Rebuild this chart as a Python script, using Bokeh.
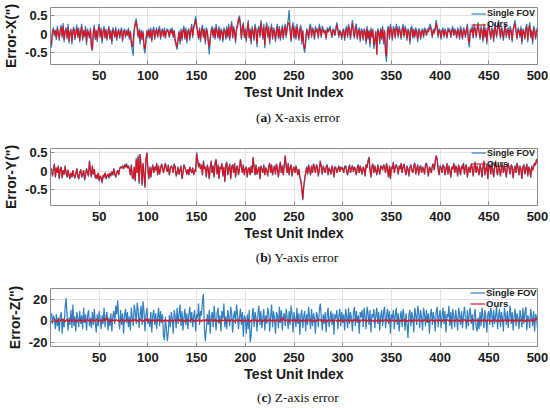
from bokeh.plotting import figure
from bokeh.layouts import column
from bokeh.models import Range1d, FixedTicker, Label, Legend, LegendItem
from bokeh.embed import file_html
from bokeh.resources import INLINE

# ---------------- data ----------------
x_ticks = [50, 100, 150, 200, 250, 300, 350, 400, 450, 500]
series_names = ["Single FOV", "Ours"]
y_labels = ['Error-X(")', 'Error-Y(")', 'Error-Z(")']
caption_letters = ["a", "b", "c"]
caption_texts = [") X-axis error", ") Y-axis error", ") Z-axis error"]
x_label = "Test Unit Index"

ex_single_fov = [
    -.36, .1, .18, -.06, .12, -.16, .22, .05, -.18, .14, .25, -.1, .3, -.22, .1, .18, -.14, .28, -.25, .08,
    .15, -.28, .12, .2, -.16, .05, .25, -.1, .18, -.22, .1, .28, -.18, .12, -.08, .22, -.3, .15, .05, -.12,
    .18, -.38, -.45, .1, .25, -.16, .12, -.22, .15, .28, -.1, .18, -.25, .1, .22, -.12, .15, -.18, .08, .22,
    -.15, .12, -.28, .18, .1, -.1, .2, -.18, .05, .15, -.12, .1, .18, -.22, .08, .15, -.1, .12, -.05, .18,
    -.15, .1, -.28, -.45, -.58, .15, .32, .42, .2, -.1, .15, -.28, .12, -.16, .1, -.4, -.52, -.22, .12, -.1,
    .15, -.12, .18, -.22, .1, .2, -.15, .08, .18, -.1, .12, .22, -.15, .1, .15, -.08, .18, -.12, .1, .15,
    .08, -.1, .15, .05, .18, -.1, .12, -.22, -.32, -.42, -.16, .1, -.28, .15, -.18, .12, .22, -.15, .18, -.25,
    .1, .15, -.18, .12, .28, -.1, .22, .32, .48, .28, .1, -.15, .18, -.22, .12, .25, -.1, .15, -.28, .18,
    .1, -.25, -.55, -.15, .12, .22, -.1, .18, -.15, .28, .1, -.12, .22, -.18, .15, .1, -.22, .18, .12, -.15,
    .22, -.1, .28, -.18, .15, .35, -.12, .22, .1, -.25, .18, .28, .42, .5, .28, -.15, .22, .32, -.1, .15,
    -.22, .18, .38, -.12, .15, -.28, .22, .1, -.18, .28, .12, -.35, .15, .22, -.1, .38, .18, -.15, .28, -.38,
    .15, .32, -.1, .22, -.28, .12, .28, -.15, .18, .1, -.22, .15, .28, -.12, .22, -.18, .1, .25, -.15, .18,
    .28, -.1, .22, .38, .65, .15, -.22, .18, .32, -.12, .22, -.15, .28, .1, -.18, .15, .25, -.28, .12, -.38,
    -.5, -.22, .15, .1, -.15, .22, .28, -.1, .18, .12, -.15, .22, .1, .15, -.12, .28, .15, -.1, .22, .15,
    .05, .12, -.15, .18, .1, .15, .22, .08, -.1, .15, .12, -.05, .18, .32, .15, -.1, .12, .05, -.15, .1,
    .15, -.18, .12, .22, -.1, .28, .15, -.15, .18, .38, .1, -.12, .22, .28, -.15, .1, .18, -.22, .15, .12,
    -.18, .15, .1, -.28, .22, -.15, .12, -.35, .18, -.1, .15, -.4, -.22, .1, -.55, .15, .1, -.28, .18, -.15,
    .22, -.28, .12, -.55, -.75, .15, .22, -.15, .28, .1, -.18, .22, .15, -.12, .28, .18, -.1, .22, .1, -.15,
    .15, .28, -.1, .22, .12, -.18, .15, .1, -.28, .18, .22, -.12, .15, -.1, .18, .1, -.22, .15, .12, -.15,
    .1, .15, -.1, .18, .12, -.05, .15, .1, .22, .28, .12, -.1, .15, .05, .18, .38, .22, -.1, .15, .1,
    -.15, .12, .18, -.1, .15, .08, -.12, .18, .1, .15, -.1, .12, .22, -.05, .15, .1, -.12, .18, .1, -.15,
    .22, .1, -.15, .18, .12, -.1, .15, .28, -.18, -.35, .15, .1, .22, -.12, .28, .15, -.1, .18, .32, .1,
    -.15, .22, .12, -.22, .28, -.1, .18, -.28, .15, .32, .1, -.15, .18, .12, -.22, .28, .15, -.1, .18, .38,
    .15, -.12, .22, .1, -.18, .15, .28, -.1, .12, .18, -.15, .22, .1, -.22, .15, .28, .38, .1, -.15, .18,
    .12, -.1, .22, -.28, .15, .1, -.15, .18, .28, -.22, .15, .32, -.1, .12, -.28, .22, .15, -.15, .1, .18,
]
ex_ours = [
    -.28, .05, .12, -.02, .08, -.1, .15, .02, -.12, .1, .18, -.05, .22, -.15, .06, .12, -.08, .2, -.18, .04,
    .1, -.2, .08, .14, -.1, .02, .18, -.06, .12, -.16, .05, .2, -.12, .08, -.04, .15, -.22, .1, .02, -.08,
    .12, -.3, -.42, .05, .18, -.1, .08, -.15, .1, .2, -.05, .12, -.18, .06, .15, -.08, .1, -.12, .04, .16,
    -.1, .08, -.2, .12, .05, -.06, .14, -.12, .02, .1, -.08, .06, .12, -.15, .04, .1, -.05, .08, -.02, .12,
    -.1, .05, -.2, -.35, -.12, .1, .25, .35, .15, -.05, .1, -.2, .08, -.1, .05, -.3, -.4, -.15, .08, -.05,
    .1, -.08, .12, -.15, .06, .14, -.1, .04, .12, -.06, .08, .15, -.1, .05, .1, -.04, .12, -.08, .06, .1,
    .04, -.06, .1, .02, .12, -.05, .08, -.15, -.25, -.35, -.1, .05, -.2, .1, -.12, .08, .15, -.1, .12, -.18,
    .05, .1, -.12, .08, .2, -.05, .15, .25, .4, .2, .05, -.1, .12, -.15, .08, .18, -.06, .1, -.2, .12,
    .05, -.18, -.35, -.1, .08, .15, -.05, .12, -.1, .2, .05, -.08, .15, -.12, .1, .05, -.15, .12, .08, -.1,
    .15, -.05, .2, -.12, .1, .28, -.08, .15, .05, -.18, .12, .2, .35, .45, .2, -.1, .15, .25, -.05, .1,
    -.15, .12, .3, -.08, .1, -.2, .15, .05, -.12, .2, .08, -.25, .1, .15, -.05, .3, .12, -.1, .2, -.3,
    .1, .25, -.05, .15, -.2, .08, .2, -.1, .12, .05, -.15, .1, .2, -.08, .15, -.12, .05, .18, -.1, .12,
    .2, -.05, .15, .3, .3, .1, -.15, .12, .25, -.08, .15, -.1, .2, .05, -.12, .1, .18, -.2, .08, -.3,
    -.4, -.15, .1, .05, -.1, .15, .2, -.05, .12, .08, -.1, .15, .05, .1, -.08, .2, .1, -.05, .15, .1,
    .02, .08, -.1, .12, .05, .1, .15, .04, -.06, .1, .08, -.02, .12, .25, .1, -.05, .08, .02, -.1, .06,
    .1, -.12, .08, .15, -.05, .2, .1, -.1, .12, .3, .05, -.08, .15, .2, -.1, .05, .12, -.15, .1, .08,
    -.12, .1, .05, -.2, .15, -.1, .08, -.25, .12, -.05, .1, -.3, -.15, .05, -.55, .1, .05, -.2, .12, -.1,
    .15, -.2, .08, -.45, -.6, .1, .15, -.1, .2, .05, -.12, .15, .1, -.08, .2, .12, -.05, .15, .05, -.1,
    .1, .2, -.05, .15, .08, -.12, .1, .05, -.2, .12, .15, -.08, .1, -.05, .12, .05, -.15, .1, .08, -.1,
    .05, .1, -.05, .12, .08, -.02, .1, .05, .15, .2, .08, -.05, .1, .02, .12, .3, .15, -.05, .1, .06,
    -.1, .08, .12, -.05, .1, .04, -.08, .12, .05, .1, -.06, .08, .15, -.02, .1, .05, -.08, .12, .06, -.1,
    .15, .05, -.1, .12, .08, -.05, .1, .2, -.12, -.25, .1, .05, .15, -.08, .2, .1, -.05, .12, .25, .05,
    -.1, .15, .08, -.15, .2, -.05, .12, -.2, .1, .25, .05, -.1, .12, .08, -.15, .2, .1, -.05, .12, .3,
    .1, -.08, .15, .05, -.12, .1, .2, -.05, .08, .12, -.1, .15, .05, -.15, .1, .2, .3, .05, -.1, .12,
    .08, -.05, .15, -.2, .1, .05, -.1, .12, .2, -.15, .1, .25, -.05, .08, -.2, .15, .1, -.1, .05, .12,
]

ey_single_fov = [
    .08, -.15, .02, .2, -.18, .1, -.05, .15, -.22, .05, .12, -.2, .02, -.1, .15, -.05, -.18, .03, -.12, -.22,
    -.05, -.18, .02, -.12, -.2, -.08, .08, -.15, -.22, -.05, .05, -.18, -.1, .02, -.25, -.12, .08, -.05, -.15, .28,
    .02, -.18, .15, -.1, .05, -.2, -.12, -.22, -.05, -.28, -.15, -.2, -.33, -.12, -.18, -.05, -.22, -.15, -.08, -.2,
    -.05, -.15, -.02, -.12, .08, -.08, -.18, -.05, .02, -.12, .08, .12, .08, .15, .05, .18, .12, .2, .08, .15,
    .05, -.12, .18, -.18, -.22, .12, -.28, .35, -.05, .42, -.35, .45, .12, -.4, .22, -.12, -.45, .32, .5, .05,
    -.22, .12, -.18, .05, .18, -.05, .12, .02, .22, -.12, .15, -.1, .05, .2, .1, -.05, .12, .22, .05, -.02,
    .18, -.12, .05, .15, .1, -.05, .2, .12, -.15, -.05, .12, -.1, .02, .15, -.22, -.05, .18, .1, .02, -.1,
    .05, -.12, .12, .02, -.05, .1, -.12, .03, -.02, .5, .32, .12, .22, .05, .18, -.12, .28, .05, .12, -.18,
    .18, .05, -.22, .12, .28, -.05, .15, -.18, .22, .32, -.1, .18, -.22, .12, .05, .22, -.15, .12, -.3, .18,
    .25, -.12, .05, .2, -.22, .12, .18, -.05, .22, -.18, .1, .15, -.12, .05, .32, .12, -.05, .18, -.12, .05,
    .12, -.18, .05, .1, -.12, .15, -.05, .38, .12, -.12, .18, -.1, .02, .12, -.22, .15, .05, -.05, .18, -.12,
    .1, .02, -.15, .12, .22, -.05, .18, -.12, .05, .15, -.1, .2, .05, -.18, .12, .25, -.05, .15, -.12, .18,
    .42, .12, -.05, .22, -.12, .1, .18, -.15, .05, .12, -.05, .15, .02, -.12, .05, -.18, -.28, -.48, -.78, -.42,
    -.22, -.05, .12, -.1, .18, .05, -.12, .15, -.05, .2, .1, -.05, .18, .12, -.15, .05, .28, .12, -.1, .15,
    .05, -.05, .12, .18, -.12, .1, .02, -.1, .15, .05, -.18, .12, .1, -.05, .05, .15, -.02, .12, .05, .1,
    -.05, .12, .15, .02, -.12, .05, .18, -.05, .1, .15, -.02, .12, .05, -.12, .1, .18, -.05, .15, .02, -.1,
    .12, .05, -.15, .18, .1, .28, .38, .05, -.18, .12, .2, -.05, .15, .02, -.12, .18, .05, -.1, .15, .12,
    .02, .18, .12, -.05, .22, .05, -.18, .15, -.22, .12, .05, .25, -.05, .12, .18, .1, -.1, .15, .05, .22,
    -.05, .12, .2, .02, -.12, .15, .05, -.15, .1, .18, .02, -.05, .15, .22, -.1, .05, .18, -.12, .1, .15,
    -.05, .12, .05, -.1, .18, .22, .05, -.15, .12, .05, -.05, .15, .2, .02, .28, .42, .32, .05, -.12, .15,
    .1, -.05, .18, .12, -.12, .05, .22, -.1, .15, .02, -.18, .12, .05, .22, -.05, .15, .1, -.15, .18, .05,
    -.12, .15, .05, .22, -.1, .12, .18, -.18, .05, .12, -.05, .2, .1, -.15, .12, .25, -.05, .15, .02, -.12,
    .18, .05, -.18, .12, .28, -.12, .05, .2, -.22, .12, .18, -.1, .22, .05, -.18, .15, .28, .02, -.12, .18,
    .05, -.15, .12, .2, -.05, .15, .02, -.18, .12, .22, .05, -.1, .18, .12, -.2, .05, .15, -.05, .22, .1,
    -.12, .15, .05, -.22, .12, .18, -.1, .05, .2, -.15, .12, .05, -.18, .15, .02, .12, .22, .18, .32, .25,
]
ey_ours = [
    .05, -.12, .02, .18, -.15, .08, -.05, .12, -.2, .05, .1, -.18, .02, -.08, .12, -.05, -.15, .03, -.1, -.2,
    -.05, -.15, .02, -.1, -.18, -.08, .05, -.12, -.2, -.05, .03, -.15, -.08, .02, -.22, -.1, .05, -.05, -.12, .25,
    .02, -.15, .12, -.08, .05, -.18, -.1, -.2, -.05, -.25, -.12, -.18, -.3, -.1, -.15, -.05, -.2, -.12, -.08, -.18,
    -.05, -.12, -.02, -.1, .05, -.08, -.15, -.05, .02, -.1, .05, .1, .08, .12, .05, .15, .1, .18, .08, .12,
    .05, -.1, .15, -.15, -.2, .1, -.25, .3, -.05, .38, -.3, .45, .1, -.35, .2, -.1, -.42, .3, .48, .05,
    -.2, .1, -.15, .05, .15, -.05, .1, .02, .2, -.1, .12, -.08, .05, .18, .08, -.05, .1, .2, .05, -.02,
    .15, -.1, .05, .12, .08, -.05, .18, .1, -.12, -.05, .1, -.08, .02, .12, -.2, -.05, .15, .08, .02, -.08,
    .05, -.1, .1, .02, -.05, .08, -.1, .03, -.02, .45, .3, .1, .2, .05, .15, -.1, .25, .05, .1, -.15,
    .15, .05, -.2, .1, .25, -.05, .12, -.15, .2, .3, -.08, .15, -.2, .1, .05, .2, -.12, .1, -.28, .15,
    .22, -.1, .05, .18, -.2, .1, .15, -.05, .2, -.15, .08, .12, -.1, .05, .3, .1, -.05, .15, -.1, .05,
    .1, -.15, .05, .08, -.1, .12, -.05, .35, .1, -.1, .15, -.08, .02, .1, -.2, .12, .05, -.05, .15, -.1,
    .08, .02, -.12, .1, .2, -.05, .15, -.1, .05, .12, -.08, .18, .05, -.15, .1, .22, -.05, .12, -.1, .15,
    .4, .1, -.05, .2, -.1, .08, .15, -.12, .05, .1, -.05, .12, .02, -.1, .05, -.15, -.25, -.45, -.75, -.4,
    -.2, -.05, .1, -.08, .15, .05, -.1, .12, -.05, .18, .08, -.05, .15, .1, -.12, .05, .25, .1, -.08, .12,
    .05, -.05, .1, .15, -.1, .08, .02, -.08, .12, .05, -.15, .1, .08, -.05, .05, .12, -.02, .1, .05, .08,
    -.05, .1, .12, .02, -.1, .05, .15, -.05, .08, .12, -.02, .1, .05, -.1, .08, .15, -.05, .12, .02, -.08,
    .1, .05, -.12, .15, .08, .25, .35, .05, -.15, .1, .18, -.05, .12, .02, -.1, .15, .05, -.08, .12, .1,
    .02, .15, .1, -.05, .2, .05, -.15, .12, -.2, .1, .05, .22, -.05, .1, .15, .08, -.08, .12, .05, .2,
    -.05, .1, .18, .02, -.1, .12, .05, -.12, .08, .15, .02, -.05, .12, .2, -.08, .05, .15, -.1, .08, .12,
    -.05, .1, .05, -.08, .15, .2, .05, -.12, .1, .05, -.05, .12, .18, .02, .25, .4, .3, .05, -.1, .12,
    .08, -.05, .15, .1, -.1, .05, .2, -.08, .12, .02, -.15, .1, .05, .2, -.05, .12, .08, -.12, .15, .05,
    -.1, .12, .05, .2, -.08, .1, .15, -.15, .05, .1, -.05, .18, .08, -.12, .1, .22, -.05, .12, .02, -.1,
    .15, .05, -.15, .1, .25, -.1, .05, .18, -.2, .1, .15, -.08, .2, .05, -.15, .12, .25, .02, -.1, .15,
    .05, -.12, .1, .18, -.05, .12, .02, -.15, .1, .2, .05, -.08, .15, .1, -.18, .05, .12, -.05, .2, .08,
    -.1, .12, .05, -.2, .1, .15, -.08, .05, .18, -.12, .1, .05, -.15, .12, .02, .1, .2, .15, .3, .22,
]

ez_single_fov = [
    7, -3, 5, 2, -8, 6, -5, 3, -10, 4, 8, -12, 2, -6, 12, 21, 5, -9, 3, -4,
    10, -7, 15, -5, 4, -10, 8, 2, -6, 9, -3, 5, -8, 12, -2, 6, -9, 4, 10, -5,
    3, -7, 8, -4, 11, -2, -11, 6, -5, 9, 2, -8, 5, -3, 12, -6, 4, 8, -9, 3,
    -5, 7, -10, 4, 9, -3, 14, 6, 19, 2, -8, 10, -4, 7, -12, 5, 11, -2, 8, -6,
    4, -9, 12, 3, -5, 15, 8, -3, 17, 10, -7, 6, 14, -4, 18, 9, -10, 5, 12, -3,
    2, -6, 8, -11, 5, 10, -4, 7, -8, 3, 12, -5, 9, -2, 6, -14, -18, 4, -8, -19,
    -10, 5, -6, 8, 2, -12, 10, 4, -7, 12, -3, 6, 15, -5, 9, -9, 3, 11, -4, 7,
    -8, 5, 13, -2, 8, -6, 4, 10, -10, 6, 2, 16, -4, 9, 5, 18, 25, -7, -19, -8,
    6, -4, 10, -12, 4, 8, -6, 14, 3, -9, 7, 12, -3, 5, -10, 9, 2, 16, -6, 4,
    -8, 10, 3, -5, 13, 7, -11, 4, 9, -3, 15, 6, -8, 3, 11, -4, 8, -15, 5, 2,
    -12, 6, -8, 10, -20, -14, 4, 12, -6, 8, 3, -10, 7, 14, -4, 9, -7, 2, 11, -9,
    5, -3, 12, 7, -10, 4, 15, -6, 9, 2, -12, 8, 5, -7, 13, -2, 10, -9, 4, 7,
    -5, 11, 3, -8, 9, -4, 14, 6, -11, 8, 2, -6, 12, -3, 7, -13, 5, 10, -7, 4,
    9, -10, 6, -4, 13, 3, -8, 11, -5, 7, 2, -12, 8, 5, -6, 10, 16, 4, -9, 6,
    -3, 8, -11, 5, 12, -6, 3, 9, -4, 7, -13, 6, 2, 10, -8, 4, 11, -5, 8, -2,
    6, -9, 11, 4, -7, 12, -3, 8, 2, -10, 7, 13, -5, 9, -2, 5, -12, 8, 3, 10,
    -6, 12, 4, -8, 13, 7, -4, 10, -11, 6, 3, 11, -7, 5, 12, -3, 8, -9, 4, 10,
    -5, 8, 13, -7, 4, 11, -3, 9, -12, 6, 2, 10, -8, 5, 12, -4, 7, -10, 3, 9,
    -6, 11, 4, -9, 7, -3, -16, 6, 10, -5, 8, 3, -11, 12, 5, -4, 14, 8, -7, 10,
    3, -9, 12, 6, -5, 10, -2, 7, -12, 5, 11, -4, 8, 2, -10, 9, 13, -6, 4, 10,
    -7, 5, 12, -3, 9, -11, 6, 3, 14, -5, 8, -8, 11, 4, -6, 10, 2, -9, 12, 6,
    -4, 9, -7, 5, 13, 2, -8, 10, -5, 7, 12, -3, 6, -9, 4, 11, -6, -10, 3, -8,
    8, -5, 12, 4, -7, 10, 3, -11, 6, 9, -4, 12, 7, -6, 10, -3, 5, 13, -8, 4,
    11, -6, 8, 2, -10, 12, 5, -4, 9, -7, 6, 14, -3, 8, -9, 4, 11, -5, 7, 2,
    -8, 10, 4, -6, 12, -3, 7, 13, -9, 5, 2, -7, 11, 4, -5, 9, -10, 6, 3, -7,
]
ez_ours = [
    -1.5, .5, -.8, 1.2, -.3, .8, -1.2, .4, 1.5, -.6, .2, 1.8, -.5, .9, -1.1, .3, 1.4, -.7, .6, -.2,
    1.1, -.9, .4, 1.6, -.4, .7, -1.3, .2, .9, -.5, 1.3, -.8, .5, -.2, 1.0, -1.0, .6, 1.5, -.3, .8,
    -.7, .3, 1.2, -.9, .5, -.4, 1.7, .2, -1.1, .8, -.3, 1.0, -.6, .4, 2.2, -.5, .9, 2.8, .3, -.8,
    .6, -1.2, 1.4, -.2, .7, -.9, .3, 1.1, -.5, .8, -1.4, .5, 1.3, -.3, .9, -.7, .2, 1.6, -.4, .6,
    -1.0, .8, -.3, 1.2, -.8, .4, 1.5, -.6, .9, -1.3, .3, 1.8, -.2, .7, -.9, .5, 1.1, -.5, 2.0, -.7,
    .4, 1.3, -.8, .6, -.2, 1.0, -1.1, .3, .9, -.6, 1.4, -.4, .5, -1.0, .8, .2, -.7, 1.2, -.3, .6,
    -.9, .5, 1.1, -.4, .7, -1.2, .3, 1.0, -.6, .8, -.2, 1.5, -.8, .4, 1.2, -.5, .9, -1.1, .3, .7,
    -.4, 1.2, -.7, .5, 1.8, -.3, .6, -1.0, .9, .2, -.6, 1.3, -.4, .8, -1.2, .5, 1.0, -.8, .3, 1.4,
    -.5, .7, -1.0, .4, 1.1, -.3, .8, -.7, 1.5, -.2, .6, -1.1, .9, .3, -.8, 1.2, -.4, .5, 1.7, -.6,
    .8, -.3, 1.0, -.9, .4, 1.3, -.5, .7, -1.2, .2, .9, -.6, 1.4, -.3, .5, -1.0, .8, .3, -.7, 1.1,
    -.4, .6, 1.2, -.8, .3, -1.3, .9, .5, -.6, 1.0, -.2, .7, -1.1, .4, 1.3, -.5, .8, -.9, .2, 1.1,
    -.3, .9, -.7, .5, 1.4, -.4, .6, -1.0, .8, .3, -.8, 1.2, -.2, .7, -1.1, .5, 2.1, -.4, 3.0, .6,
    -.7, .4, 1.0, -.5, .8, -1.2, .3, .9, -.6, 1.3, -.3, .5, -.9, .7, 1.1, -.4, .6, -1.0, .8, .2,
    -.5, 1.2, -.8, .4, .9, -.3, 1.4, -.7, .5, -1.1, .8, .3, -.6, 1.0, -.4, .7, 1.3, -.9, .4, -.2,
    1.0, -.6, .5, -1.2, .8, .3, -.7, 1.1, -.4, .6, -1.0, .9, .2, -.5, 1.4, -.8, .4, 1.0, -.3, .7,
    -1.1, .5, .9, -.4, 1.2, -.7, .3, .8, -1.0, .6, -.2, 1.3, -.8, .5, 1.0, -.5, .7, -1.2, .4, .9,
    -.6, 1.1, -.3, .6, -1.0, .8, .4, -.7, 1.2, -.4, .5, -1.1, .9, .3, -.6, 1.4, -.5, .7, -.9, .4,
    1.0, -.7, .5, 1.3, -.4, .8, -1.2, .3, .9, -.5, 1.1, -.8, .4, .7, -1.0, .6, 1.2, -.3, .5, -.8,
    .9, -.4, 1.3, -.9, .6, .2, -.7, 1.0, -.5, .8, -1.1, .4, 1.2, -.3, .7, -.8, .5, 1.0, -.6, .3,
    -.9, 1.1, -.4, .7, 1.3, -.6, .4, -1.0, .9, -.3, .6, 1.2, -.7, .5, -1.2, .8, .3, -.5, 1.0, -.4,
    .6, -1.0, 1.2, -.3, .8, -.7, .4, 1.1, -.5, .9, -1.3, .5, .2, -.6, 1.0, -.4, .7, 1.3, -.8, .4,
    -.5, .9, -1.1, .6, 1.2, -.4, .3, -.8, 1.0, -.2, .7, -1.0, .5, 1.4, -.6, .8, -.3, 1.1, -.9, .5,
    .2, -.7, 1.0, -.4, .8, 1.3, -.9, .5, -.3, 1.1, -.6, .7, -1.1, .4, .9, -.5, 1.2, -.8, .3, .6,
    -1.0, .8, -.4, 1.2, -.7, .5, 1.0, -.3, .6, -1.2, .9, .4, -.6, 1.1, -.5, .7, -.9, 1.3, -.4, .8,
    .3, -.8, 1.2, -.5, .9, -.2, .6, -1.0, 1.4, -.4, .7, -.9, 1.1, .4, -.6, 1.0, -.3, 2.0, 1.5, 2.2,
]

y_ranges = [(-0.82, 0.72), (-0.92, 0.6), (-24, 30)]
y_ticks = [[-0.5, 0, 0.5], [-0.5, 0, 0.5], [-20, 0, 20]]
y_tick_labels = [["-0.5", "0", "0.5"], ["-0.5", "0", "0.5"], ["-20", "0", "20"]]

# ---------------- styling / layout ----------------
BLUE = "#2f7dc2"
RED = "#d7141f"
SANS = "Liberation Sans"
SERIF = "Liberation Serif"
W = 550
LEFT = 45
RIGHT = 13
CAP_FS = 13.5
ROW_H = 11
LEG_H = 2 * ROW_H


def make_panel(i, blue, red, height, top, bottom, leg_vx, leg_top, leg_fs):
    p = figure(width=W, height=height, output_backend="svg", toolbar_location=None,
               x_range=Range1d(0, 500), y_range=Range1d(*y_ranges[i]),
               min_border_left=LEFT, min_border_right=RIGHT,
               min_border_top=top, min_border_bottom=bottom)
    frame_h = height - top - bottom
    p.background_fill_color = "white"
    p.border_fill_color = "white"
    p.outline_line_color = "#8a8a8a"
    p.outline_line_width = 1

    rb = p.line(list(range(1, len(blue) + 1)), blue, color=BLUE, line_width=1.2)
    rr = p.line(list(range(1, len(red) + 1)), red, color=RED, line_width=1.2)

    p.xaxis.ticker = FixedTicker(ticks=x_ticks)
    p.yaxis.ticker = FixedTicker(ticks=y_ticks[i])
    p.yaxis.major_label_overrides = {t: s for t, s in zip(y_ticks[i], y_tick_labels[i])}
    for ax in (p.xaxis[0], p.yaxis[0]):
        ax.axis_line_color = None
        ax.major_tick_out = 0
        ax.major_tick_in = 4
        ax.major_tick_line_color = "#8a8a8a"
        ax.minor_tick_line_color = None
        ax.major_label_text_font = SANS
        ax.major_label_text_font_style = "bold"
        ax.major_label_text_font_size = "13px"
        ax.major_label_text_color = "#1a1a1a"
        ax.axis_label_text_font = SANS
        ax.axis_label_text_font_style = "bold"
        ax.axis_label_text_font_size = "14px"
        ax.axis_label_text_color = "#1a1a1a"
    p.xaxis.axis_label = x_label
    p.xaxis.major_label_standoff = 6
    p.xaxis.axis_label_standoff = 1
    p.yaxis.axis_label = y_labels[i]
    p.yaxis.major_label_standoff = 3
    p.yaxis.axis_label_standoff = 3

    p.grid.grid_line_color = "#e3e3e3"
    p.grid.grid_line_width = 1

    legend = Legend(items=[LegendItem(label=series_names[0], renderers=[rb]),
                           LegendItem(label=series_names[1], renderers=[rr])],
                    location=(leg_vx, frame_h - leg_top - LEG_H))
    legend.padding = 0
    legend.margin = 0
    legend.spacing = 0
    legend.glyph_width = 15
    legend.glyph_height = ROW_H
    legend.label_height = ROW_H
    legend.label_standoff = 1
    legend.label_text_font = SANS
    legend.label_text_font_style = "bold"
    legend.label_text_font_size = leg_fs
    legend.label_text_color = "#1a1a1a"
    legend.border_line_color = None
    legend.background_fill_alpha = 0
    p.add_layout(legend)
    return p


def make_caption(i, height, centre_y):
    c = figure(width=W, height=height, output_backend="svg", toolbar_location=None,
               x_range=Range1d(0, W), y_range=Range1d(0, height),
               x_axis_type=None, y_axis_type=None, min_border=0)
    c.outline_line_color = None
    c.grid.visible = False
    c.background_fill_color = "white"
    c.border_fill_color = "white"
    # "(" + bold letter + ") ?-axis error", centred on the page
    letter_w = {"a": 0.5, "b": 0.556, "c": 0.444}[caption_letters[i]] * CAP_FS
    paren_w = 0.333 * CAP_FS
    rest_w = (0.333 + 0.25 + (0.611 if i == 2 else 0.722) + 0.333 + 0.444 + 0.5 + 0.278
              + 0.389 + 0.25 + 0.444 + 0.333 + 0.333 + 0.5 + 0.333) * CAP_FS
    total = paren_w + letter_w + rest_w
    x_letter = W / 2 - total / 2 + paren_w
    y = height - centre_y
    common = dict(y=y, text_baseline="middle", text_font=SERIF,
                  text_font_size=f"{CAP_FS}px", text_color="#111111")
    c.add_layout(Label(x=x_letter, text="(", text_align="right", **common))
    c.add_layout(Label(x=x_letter, text=caption_letters[i], text_align="left",
                       text_font_style="bold", **common))
    c.add_layout(Label(x=x_letter + letter_w, text=caption_texts[i], text_align="left", **common))
    return c


p1 = make_panel(0, ex_single_fov, ex_ours, 104, 7, 40, 421, 0.5, "9px")
c1 = make_caption(0, 26, 13)
p2 = make_panel(1, ey_single_fov, ey_ours, 114, 18, 39, 421, -1, "9px")
c2 = make_caption(1, 26, 13)
p3 = make_panel(2, ez_single_fov, ez_ours, 116, 18, 40, 420, -1, "9.5px")
c3 = make_caption(2, 22, 11)

layout = column(p1, c1, p2, c2, p3, c3, spacing=0)
open("out.html", "w").write(file_html(layout, INLINE))
